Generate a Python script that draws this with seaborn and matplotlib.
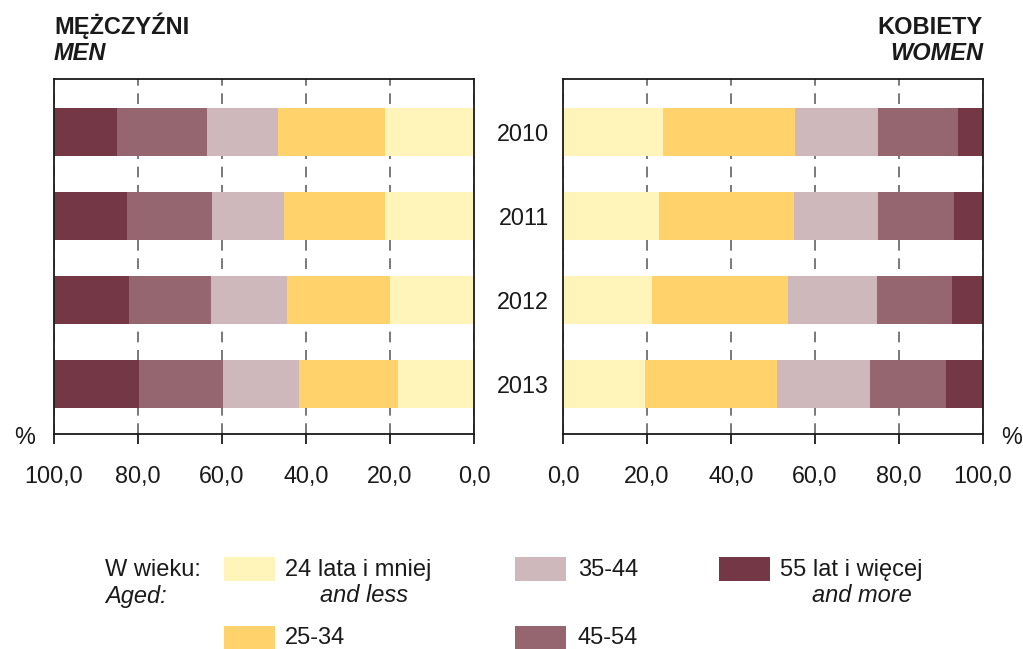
import numpy as np
import pandas as pd
import matplotlib
matplotlib.use("Agg")
import matplotlib.pyplot as plt
import seaborn as sns
from matplotlib.patches import Rectangle

# ---------------- data ----------------
years = ["2010", "2011", "2012", "2013"]
age_groups = ["24 lata i mniej", "25-34", "35-44", "45-54", "55 lat i więcej"]
age_groups_en = ["and less", "", "", "", "and more"]

men_24_less = [21.3, 21.1, 19.9, 18.2]
men_25_34 = [25.3, 24.1, 24.6, 23.4]
men_35_44 = [17.0, 17.2, 18.1, 18.1]
men_45_54 = [21.4, 20.3, 19.6, 20.1]
men_55_more = [15.0, 17.3, 17.8, 20.2]

women_24_less = [23.8, 22.8, 21.2, 19.5]
women_25_34 = [31.4, 32.2, 32.3, 31.4]
women_35_44 = [19.7, 19.9, 21.2, 22.1]
women_45_54 = [19.1, 18.1, 17.8, 18.1]
women_55_more = [6.0, 7.0, 7.5, 8.9]

x_ticks = [0, 20, 40, 60, 80, 100]
x_tick_labels = ["0,0", "20,0", "40,0", "60,0", "80,0", "100,0"]

colors = ["#FFF4BA", "#FFD26C", "#CFB8BC", "#95666F", "#733745"]

# ---------------- style ----------------
sns.set_style("white")
plt.rcParams["font.family"] = ["Liberation Sans", "DejaVu Sans"]

W, H = 1023, 649
fig = plt.figure(figsize=(W / 100, H / 100), dpi=100)


def fx(px):
    return px / W


def fy(py):
    return 1 - py / H


ax_top, ax_bot = 79, 434
axL = fig.add_axes([fx(54), fy(ax_bot), fx(420), (ax_bot - ax_top) / H])
axR = fig.add_axes([fx(563), fy(ax_bot), fx(420), (ax_bot - ax_top) / H])

men = np.array([men_24_less, men_25_34, men_35_44, men_45_54, men_55_more])
women = np.array([women_24_less, women_25_34, women_35_44, women_45_54, women_55_more])


def draw_panel(ax, data):
    cum = np.cumsum(data, axis=0)
    for i in range(len(age_groups) - 1, -1, -1):
        df = pd.DataFrame({"year": years, "value": cum[i]})
        sns.barplot(data=df, x="value", y="year", order=years, orient="h",
                    color=colors[i], saturation=1, width=0.571, linewidth=0,
                    ax=ax, zorder=2)
    ax.set_ylim(3.595, -0.631)
    ax.set_xlabel("")
    ax.set_ylabel("")
    ax.set_xticks(x_ticks)
    ax.set_xticklabels(x_tick_labels)
    ax.grid(axis="x", color="#555555", linestyle=(0, (7, 5)), linewidth=1.1)
    ax.grid(axis="y", visible=False)
    ax.set_axisbelow(True)
    for s in ax.spines.values():
        s.set_visible(True)
        s.set_color("#1a1a1a")
        s.set_linewidth(1.3)
    ax.tick_params(axis="x", direction="out", length=7.5, width=1.3,
                   pad=15, labelsize=16.8, colors="#1a1a1a", bottom=True)


draw_panel(axL, men)
axL.set_xlim(100, 0)
axL.tick_params(axis="y", left=False, labelleft=False)

draw_panel(axR, women)
axR.set_xlim(0, 100)
axR.tick_params(axis="y", left=False, length=0, pad=10, labelsize=16.8,
                labelleft=True, colors="#1a1a1a")

# titles
fig.text(fx(54), fy(34), "MĘŻCZYŹNI", fontsize=17, fontweight="bold",
         ha="left", va="baseline", color="#1a1a1a")
fig.text(fx(54), fy(60), "MEN", fontsize=17, fontweight="bold", style="italic",
         ha="left", va="baseline", color="#1a1a1a")
fig.text(fx(983), fy(34), "KOBIETY", fontsize=17, fontweight="bold",
         ha="right", va="baseline", color="#1a1a1a")
fig.text(fx(983), fy(60), "WOMEN", fontsize=17, fontweight="bold", style="italic",
         ha="right", va="baseline", color="#1a1a1a")

# percent signs
fig.text(fx(25), fy(438), "%", fontsize=16.8, ha="center", va="center", color="#1a1a1a")
fig.text(fx(1012), fy(438), "%", fontsize=16.8, ha="center", va="center", color="#1a1a1a")

# legend
lfs = 17
fig.text(fx(105), fy(570), "W wieku:", fontsize=lfs, ha="left", va="center", color="#1a1a1a")
fig.text(fx(105), fy(596), "Aged:", fontsize=lfs, style="italic", ha="left", va="center",
         color="#1a1a1a")

sw_pos = [(224, 557), (224, 626), (515, 557), (515, 626), (719, 557)]
lab_pos = [(285, 570), (285, 638), (578, 570), (578, 638), (780, 570)]
en_center = [364, None, None, None, 862]
for i in range(len(age_groups)):
    sx, sy = sw_pos[i]
    fig.patches.append(Rectangle((fx(sx), fy(sy + 24)), fx(51), 24 / H,
                                 transform=fig.transFigure, facecolor=colors[i],
                                 edgecolor="none"))
    lx, ly = lab_pos[i]
    fig.text(fx(lx), fy(ly), age_groups[i], fontsize=lfs, ha="left", va="center",
             color="#1a1a1a")
    if age_groups_en[i]:
        fig.text(fx(en_center[i]), fy(596), age_groups_en[i], fontsize=lfs,
                 style="italic", ha="center", va="center", color="#1a1a1a")

fig.savefig("out.png", dpi=100)
